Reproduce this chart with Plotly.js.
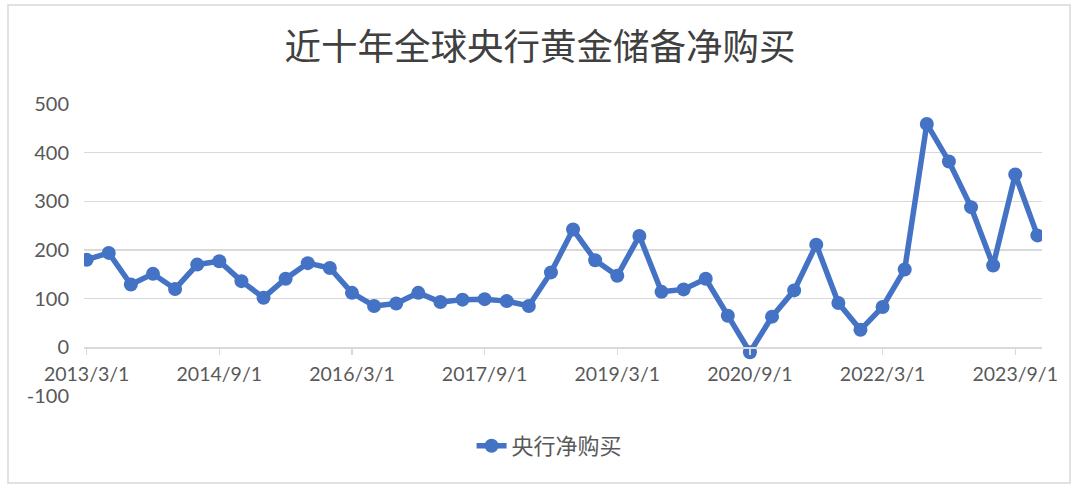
<!DOCTYPE html>
<html>
<head>
<meta charset="utf-8">
<script src="https://cdn.plot.ly/plotly-3.0.1.min.js"></script>
<style>
html,body{margin:0;padding:0;background:#fff;}
#chart{width:1080px;height:493px;}
</style>
</head>
<body>
<div id="chart"></div>
<script>
const quarters = [
  "2013/3/1","2013/6/1","2013/9/1","2013/12/1",
  "2014/3/1","2014/6/1","2014/9/1","2014/12/1",
  "2015/3/1","2015/6/1","2015/9/1","2015/12/1",
  "2016/3/1","2016/6/1","2016/9/1","2016/12/1",
  "2017/3/1","2017/6/1","2017/9/1","2017/12/1",
  "2018/3/1","2018/6/1","2018/9/1","2018/12/1",
  "2019/3/1","2019/6/1","2019/9/1","2019/12/1",
  "2020/3/1","2020/6/1","2020/9/1","2020/12/1",
  "2021/3/1","2021/6/1","2021/9/1","2021/12/1",
  "2022/3/1","2022/6/1","2022/9/1","2022/12/1",
  "2023/3/1","2023/6/1","2023/9/1","2023/12/1"
];
const netPurchases = [
  180, 194, 129, 151, 120, 170, 177, 136, 102, 141, 173, 163,
  112, 85, 90, 112, 93, 98, 99, 95, 85, 154, 242, 179,
  147, 229, 114, 119, 141, 65, -10, 63, 117, 211, 91, 36,
  83, 160, 459, 382, 288, 168, 355, 230
];
const xTickLabels = ["2013/3/1","2014/9/1","2016/3/1","2017/9/1","2019/3/1","2020/9/1","2022/3/1","2023/9/1"];
const yTickValues = [-100, 0, 100, 200, 300, 400, 500];
const yTickLabels = ["-100", "0", "100", "200", "300", "400", "500"];
const seriesName = "央行净购买";
const chartTitle = "近十年全球央行黄金储备净购买";

const trace = {
  type: "scatter",
  mode: "lines+markers",
  name: seriesName,
  x: quarters,
  y: netPurchases,
  line: {color: "#4472C4", width: 5.5},
  marker: {color: "#4472C4", size: 14}
};

const layout = {
  width: 1080,
  height: 493,
  paper_bgcolor: "#ffffff",
  plot_bgcolor: "#ffffff",
  margin: {l: 84, r: 38, t: 104, b: 97},
  title: {
    text: chartTitle,
    font: {family: "Noto Sans CJK SC", size: 36.5, color: "#404040"},
    x: 0.5, xanchor: "center",
    y: 1 - 47/493, yref: "container", yanchor: "middle"
  },
  xaxis: {
    type: "category",
    range: [-0.12, 43.21],
    anchor: "free",
    position: 1/6,
    showgrid: false,
    zeroline: false,
    showline: true,
    linecolor: "#d9d9d9",
    linewidth: 1.5,
    ticks: "outside",
    ticklen: 6,
    tickcolor: "#d9d9d9",
    tickwidth: 1.5,
    tickvals: xTickLabels,
    ticktext: xTickLabels,
    tickangle: 0,
    ticklabelstandoff: 3,
    tickfont: {family: "Lato", size: 19.5, color: "#595959"}
  },
  yaxis: {
    range: [-100, 500],
    tickvals: yTickValues,
    ticktext: yTickLabels,
    showgrid: true,
    gridcolor: "#d9d9d9",
    gridwidth: 1.5,
    zeroline: false,
    showline: false,
    ticks: "",
    ticklabelstandoff: 14,
    tickfont: {family: "Lato", size: 20, color: "#595959"}
  },
  showlegend: true,
  legend: {
    orientation: "h",
    x: 0.486, xanchor: "center",
    y: -0.171, yanchor: "middle",
    font: {family: "Noto Sans CJK SC", size: 22, color: "#595959"},
    bgcolor: "rgba(0,0,0,0)"
  },
  shapes: [{
    type: "rect",
    xref: "paper", yref: "paper",
    x0: (8-84)/958, x1: (1070-84)/958,
    y0: (396-483)/292, y1: (396-5)/292,
    line: {color: "#d9d9d9", width: 1.5},
    fillcolor: "rgba(0,0,0,0)",
    layer: "below"
  }]
};

Plotly.newPlot("chart", [trace], layout, {staticPlot: true, displayModeBar: false});
</script>
</body>
</html>
